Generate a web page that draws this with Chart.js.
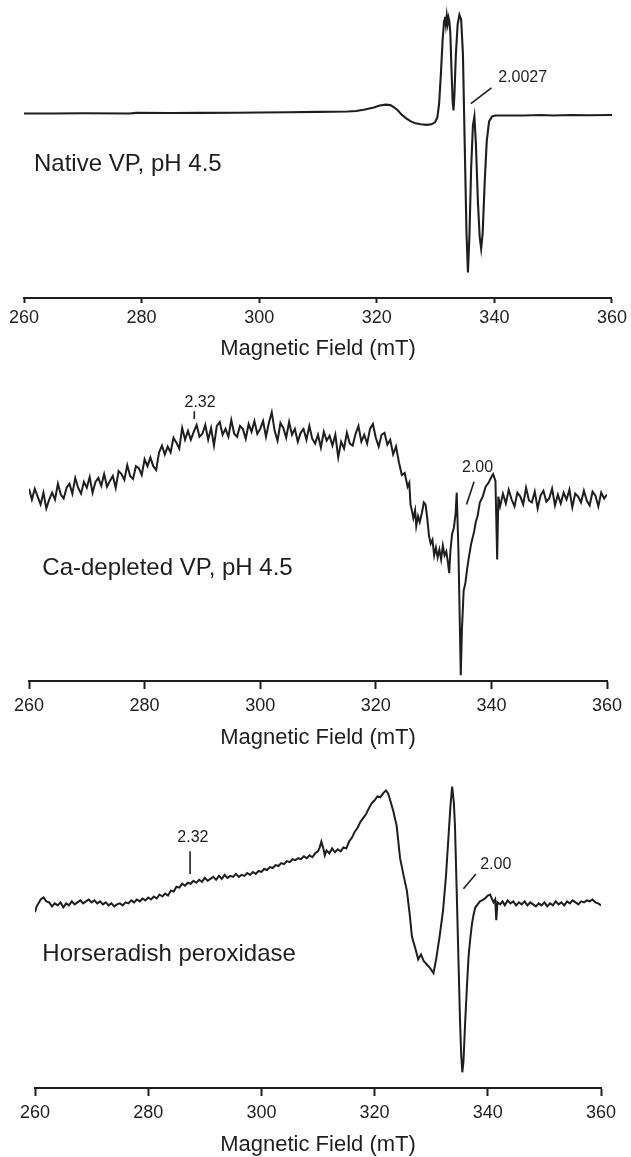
<!DOCTYPE html>
<html>
<head>
<meta charset="utf-8">
<script src="https://cdn.jsdelivr.net/npm/chart.js@4/dist/chart.umd.min.js"></script>
<style>
  html, body { margin: 0; padding: 0; background: #fff; overflow: hidden; }
  body { width: 631px; height: 1157px; position: relative; }
  canvas { position: absolute; left: 0; }
</style>
</head>
<body>
<canvas id="native" width="631" height="362" style="top:0px"></canvas>
<canvas id="cadep" width="631" height="379" style="top:372px"></canvas>
<canvas id="hrp" width="631" height="398" style="top:760px"></canvas>
<script>
// ── Data ─────────────────────────────────────────────────
// [field (mT), signal (arb. units)]
const fieldTicks = [260, 280, 300, 320, 340, 360];

const nativeVP = [
  [260,0],[265,0],[270,0.2],[278,0],[279,0.6],[285,0.5],[290,0.6],[296,0.8],[300,1],[305,1.2],
  [310,1.6],[315,2],[316.5,2.5],[318,4],[319.5,6],[320.5,8],[321.5,9],[322.3,8.5],[323,6],[323.6,3],
  [324.2,-1],[325,-5],[325.8,-8],[326.6,-10],[327.5,-11],[328.5,-11.5],[329.3,-11],[329.9,-9],[330.3,-4],
  [330.6,10],[330.9,40],[331.2,75],[331.45,94],[331.6,98],[331.75,90],[331.9,99],[332.05,91],[332.2,97],
  [332.35,93],[332.5,82],[332.7,45],[332.9,12],[333.05,3],[333.2,18],[333.45,60],[333.75,90],[334.05,100],
  [334.35,95],[334.65,60],[334.95,-30],[335.25,-120],[335.5,-161],[335.75,-125],[336.05,-55],[336.35,-12],
  [336.6,-3],[336.85,-30],[337.2,-90],[337.5,-125],[337.75,-137],[338.0,-122],[338.35,-70],[338.7,-28],
  [339.1,-8],[339.6,-3],[340.2,-2],[345,-2],[348,-1.5],[350,-2],[353,-1.5],[356,-1.8],[360,-1.5]
];

const caDepletedVP = [
  [260,4],[260.5,-7],[261,4],[261.5,-4],[262,-12],[262.5,0],[263,-16],[263.5,-7],[264,0],[264.5,-7],
  [265,9],[265.5,-2],[266,-6],[266.5,5],[267,9],[267.5,-1],[268,15],[268.5,5],[269,-1],[269.5,11],
  [270,5],[270.5,16],[271,0],[271.5,11],[272,15],[272.5,7],[273,19],[273.5,6],[274,12],[274.5,17],
  [275,5],[275.5,22],[276,19],[276.5,13],[277,28],[277.5,17],[278,14],[278.5,27],[279,25],[279.5,18],
  [280,34],[280.5,27],[281,36],[281.5,27],[282,23],[282.5,41],[283,48],[283.5,39],[284,47],[284.5,41],
  [285,56],[285.5,51],[286,45],[286.5,66],[287,54],[287.5,63],[288,54],[288.5,62],[289,69],[289.5,57],
  [290,60],[290.5,69],[291,54],[291.5,66],[292,48],[292.5,68],[293,72],[293.5,59],[294,65],[294.5,57],
  [295,74],[295.5,60],[296,57],[296.5,68],[297,65],[297.5,55],[298,70],[298.5,62],[299,73],[299.5,60],
  [300,65],[300.5,73],[301,57],[301.5,71],[302,82],[302.5,63],[303,53],[303.5,71],[304,66],[304.5,56],
  [305,72],[305.5,59],[306,65],[306.5,52],[307,61],[307.5,65],[308,54],[308.5,68],[309,55],[309.5,50],
  [310,59],[310.5,46],[311,62],[311.5,53],[312,58],[312.5,48],[313,59],[313.5,36],[314,52],[314.5,45],
  [315,61],[315.5,50],[316,48],[316.5,60],[317,68],[317.5,52],[318,59],[318.5,50],[319,65],[319.5,70],
  [320,56],[320.5,47],[321,59],[321.5,61],[322,49],[322.5,54],[323,39],[323.5,47],[324,31],[324.5,18],
  [325,20],[325.5,6],[325.8,10],[326,-12],[326.3,-20],[326.5,-26],[326.8,-18],[327,-34],[327.3,-24],
  [327.6,-30],[328,-20],[328.3,-10],[328.6,-12],[328.9,-26],[329.2,-44],[329.5,-52],[329.8,-48],[330.1,-64],
  [330.4,-56],[330.7,-66],[331,-58],[331.3,-68],[331.6,-54],[331.9,-64],[332.2,-60],[332.5,-72],[332.7,-82],
  [332.9,-60],[333.2,-42],[333.5,-36],[333.8,-22],[334.0,0],[334.3,-60],[334.7,-186],[334.9,-140],
  [335.2,-100],[335.5,-92],[335.8,-78],[336.1,-66],[336.5,-52],[337,-40],[337.3,-30],[337.6,-24],
  [338,-10],[338.5,-4],[339,6],[339.5,10],[340,16],[340.3,19],[340.7,12],[341.0,-68],[341.2,-4],
  [341.5,-14],[342,-1],[342.5,-11],[343,3],[343.5,-7],[344,-14],[344.5,0],[345,-4],[345.5,-12],
  [346,5],[346.5,-8],[347,-10],[347.5,1],[348,-16],[348.5,-3],[349,2],[349.5,-9],[350,-6],[350.5,4],
  [351,-13],[351.5,-2],[352,-11],[352.5,0],[353,-7],[353.5,3],[354,-15],[354.5,-1],[355,-4],[355.5,-10],
  [356,2],[356.5,-8],[357,-13],[357.5,1],[358,-3],[358.5,-14],[359,0],[359.5,-6],[360,-2]
];

const horseradish = [
  [260,-8],[260.3,-2],[260.7,2],[261,5],[261.5,7],[262,3],[262.5,2],[263,-2],[263.5,1],[264,-1],
  [264.5,2],[265,-3],[265.5,1],[266,-1],[266.5,3],[267,0],[267.5,2],[268,4],[268.5,1],[269,3],
  [269.5,5],[270,2],[270.5,4],[271,1],[271.5,3],[272,0],[272.5,2],[273,-1],[273.5,1],[274,-2],
  [274.5,0],[275,1],[275.5,-1],[276,2],[276.5,1],[277,4],[277.5,2],[278,5],[278.5,3],[279,6],
  [279.5,4],[280,7],[280.5,5],[281,8],[281.5,6],[282,10],[282.5,8],[283,11],[283.5,9],[284,14],
  [284.5,13],[285,18],[285.5,17],[286,21],[286.5,19],[287,22],[287.5,21],[288,24],[288.5,22],[289,25],
  [289.5,23],[290,27],[290.5,24],[291,26],[291.5,28],[292,25],[292.5,29],[293,26],[293.5,30],[294,27],
  [294.5,29],[295,28],[295.5,31],[296,28],[296.5,30],[297,29],[297.5,32],[298,30],[298.5,33],[299,31],
  [299.5,34],[300,33],[300.5,36],[301,35],[301.5,38],[302,37],[302.5,40],[303,39],[303.5,42],[304,41],
  [304.5,44],[305,43],[305.5,46],[306,45],[306.5,47],[307,46],[307.5,49],[308,47],[308.5,50],[309,48],
  [309.5,52],[310,54],[310.3,58],[310.6,64],[310.9,58],[311.2,50],[311.5,55],[312,52],[312.5,57],[313,53],
  [313.5,56],[314,54],[314.5,58],[315,57],[315.5,64],[316,68],[316.5,74],[317,78],[317.5,84],[318,88],
  [318.5,92],[319,98],[319.5,103],[320,106],[320.5,110],[321,109],[321.5,113],[322,116],[322.4,113],
  [322.7,107],[323.3,95],[323.9,80],[324.5,47],[325.1,30],[325.7,14],[326.2,-10],[326.6,-33],[327.2,-45],
  [327.7,-56],[328.2,-51],[328.7,-58],[329.2,-61],[329.8,-65],[330.4,-70],[330.9,-55],[331.5,-32],
  [332.1,-6],[332.6,28],[333.0,64],[333.4,100],[333.7,120],[334.0,104],[334.2,80],[334.5,15],[334.8,-53],
  [335.1,-120],[335.3,-153],[335.5,-171],[335.7,-160],[336.0,-120],[336.3,-85],[336.6,-53],[336.9,-35],
  [337.2,-20],[337.5,-10],[337.8,-3],[338.2,0],[338.6,3],[339.0,4],[339.5,6],[340.0,9],[340.4,10],
  [340.7,6],[341.0,2],[341.3,5],[341.5,-16],[341.7,2],[342.2,0],[342.6,3],[343,-1],[343.5,4],[344,1],
  [344.5,3],[345,-1],[345.5,2],[346,0],[346.5,3],[347,-1],[347.5,2],[348,0],[348.5,-2],[349,1],
  [349.5,-1],[350,2],[350.5,-2],[351,1],[351.5,-1],[352,3],[352.5,0],[353,2],[353.5,-1],[354,3],
  [354.5,1],[355,4],[355.5,2],[356,0],[356.5,3],[357,2],[357.5,4],[358,3],[358.5,5],[359,2],
  [359.5,1],[360,-1]
];

// ── Annotations (data coordinates) ───────────────────────
const nativeNotes = {
  title: { x: 261.7, y: -52, text: 'Native VP, pH 4.5' },
  labels: [{ x: 344.8, y: 36, text: '2.0027' }],
  lines: [[336.0, 10, 339.5, 26]]
};
const cadepNotes = {
  title: { x: 262.3, y: -77, text: 'Ca-depleted VP, pH 4.5' },
  labels: [{ x: 289.6, y: 92, text: '2.32' }, { x: 337.6, y: 26, text: '2.00' }],
  lines: [[288.6, 83, 288.6, 75], [335.7, -12, 337.0, 11]]
};
const hrpNotes = {
  title: { x: 261.3, y: -51, text: 'Horseradish peroxidase' },
  labels: [{ x: 287.9, y: 68, text: '2.32' }, { x: 341.4, y: 40, text: '2.00' }],
  lines: [[287.4, 54, 287.4, 31], [335.7, 16, 337.9, 31]]
};

const FONT = '"Liberation Sans", Arial, Helvetica, sans-serif';
const INK = '#1e1e1e';

const notesPlugin = {
  id: 'notes',
  afterDatasetsDraw(chart, args, opts) {
    const n = opts.notes;
    if (!n) return;
    const { ctx, scales: { x, y } } = chart;
    ctx.save();
    ctx.fillStyle = INK;
    ctx.strokeStyle = INK;
    ctx.lineWidth = 1.6;
    n.lines.forEach(([x1, y1, x2, y2]) => {
      ctx.beginPath();
      ctx.moveTo(x.getPixelForValue(x1), y.getPixelForValue(y1));
      ctx.lineTo(x.getPixelForValue(x2), y.getPixelForValue(y2));
      ctx.stroke();
    });
    ctx.font = '16px ' + FONT;
    ctx.textAlign = 'center';
    ctx.textBaseline = 'middle';
    n.labels.forEach(l => ctx.fillText(l.text, x.getPixelForValue(l.x), y.getPixelForValue(l.y)));
    ctx.font = '24px ' + FONT;
    ctx.textAlign = 'left';
    ctx.fillText(n.title.text, x.getPixelForValue(n.title.x), y.getPixelForValue(n.title.y));
    ctx.restore();
  }
};

// ── Panels ───────────────────────────────────────────────
function makePanel(id, data, notes, cfg) {
  const ctx = document.getElementById(id).getContext('2d');
  return new Chart(ctx, {
    type: 'line',
    data: {
      datasets: [{
        data: data.map(([f, s]) => ({ x: f, y: s })),
        borderColor: INK,
        borderWidth: cfg.lineWidth,
        pointRadius: 0,
        tension: 0,
        fill: false
      }]
    },
    options: {
      responsive: false,
      animation: false,
      devicePixelRatio: 1,
      layout: { padding: { left: cfg.left, right: cfg.right, top: 0, bottom: 0 } },
      plugins: { legend: { display: false }, tooltip: { enabled: false }, notes: { notes } },
      scales: {
        x: {
          type: 'linear',
          min: fieldTicks[0],
          max: fieldTicks[fieldTicks.length - 1],
          afterBuildTicks: s => { s.ticks = fieldTicks.map(v => ({ value: v })); },
          border: { display: true, color: INK, width: 2 },
          grid: { drawOnChartArea: false, drawTicks: true, tickLength: cfg.tick, tickWidth: 2, tickColor: INK },
          ticks: { color: INK, padding: cfg.tickPad, maxRotation: 0, font: { family: FONT, size: 18 } },
          title: {
            display: true, text: 'Magnetic Field (mT)', color: INK,
            padding: { top: cfg.titlePad, bottom: 0 },
            font: { family: FONT, size: 22 }
          }
        },
        y: { display: false, min: cfg.ymin, max: cfg.ymax }
      }
    },
    plugins: [notesPlugin]
  });
}

makePanel('native', nativeVP, nativeNotes,
  { left: 24, right: 18, tick: 5, tickPad: 4, titlePad: 3, ymin: -187, ymax: 115, lineWidth: 2.1 });
makePanel('cadep', caDepletedVP, cadepNotes,
  { left: 29, right: 24, tick: 8, tickPad: 6, titlePad: 2, ymin: -192, ymax: 123, lineWidth: 2 });
makePanel('hrp', horseradish, hrpNotes,
  { left: 35, right: 30, tick: 8, tickPad: 6, titlePad: 2, ymin: -187, ymax: 147, lineWidth: 2 });
</script>
</body>
</html>
